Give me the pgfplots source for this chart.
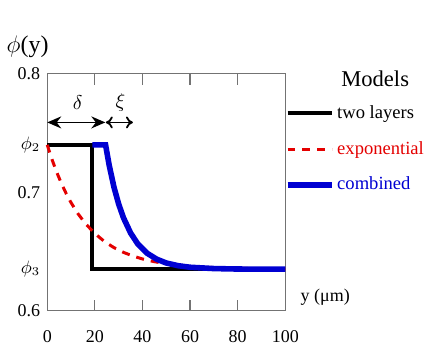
\documentclass[border=0pt]{standalone}
\usepackage{fontspec}
\setmainfont{Liberation Serif}
\usepackage{pgfplots}
\pgfplotsset{compat=1.18}
\usetikzlibrary{arrows.meta}
\definecolor{cred}{RGB}{228,0,0}
\definecolor{cblue}{RGB}{0,0,210}

\begin{document}
\begin{tikzpicture}
\begin{axis}[
  scale only axis,
  width=119.2pt, height=118.5pt,
  xmin=0, xmax=100, ymin=0.6, ymax=0.8,
  clip=false,
  axis line style={black!55, line width=0.6pt},
  xtick={0,20,...,100},
  ytick={0.6,0.7,0.8},
  extra y ticks={0.635,0.74},
  extra y tick labels={$\phi_3$,$\phi_2$},
  extra y tick style={ytick style={draw=none}},
  ytick style={draw=none},
  xtick style={black!55, line width=0.6pt},
  major tick length=5.5pt,
  tick align=inside,
  xtick pos=both,
  /pgf/number format/assume math mode=true,
  yticklabel style={/pgf/number format/.cd, fixed, fixed zerofill, precision=1},
  tick label style={font=\fontsize{9}{10}\selectfont},
  xticklabel style={yshift=-6.5pt},
  legend style={at={(rel axis cs:1,1)}, anchor=north west, xshift=-0.5pt, yshift=-14.5pt,
    draw=none, fill=none, inner sep=0pt, row sep=8pt,
    font=\fontsize{9.3}{10}\selectfont, nodes={inner sep=1pt}},
  legend cell align=left,
  legend image code/.code={\draw[#1] (0pt,0pt) -- (22.5pt,0pt);},
]
\addplot[black, line width=2pt] coordinates {(0,0.74) (19,0.74) (19,0.635) (100,0.635)};
\addlegendentry{two layers}
\addplot[cred, line width=1.5pt, dash pattern=on 4pt off 3.5pt] coordinates {
  (0,0.740) (2,0.7277) (4,0.7168) (6,0.7072) (8,0.6987) (10,0.6912) (13,0.6816)
  (16,0.6736) (20,0.6651) (24,0.6584) (28,0.6532) (32,0.6492) (36,0.6461)
  (40,0.6436) (45,0.6413) (50,0.6396) (55,0.6384) (60,0.6375) (70,0.6363)
  (80,0.6357) (90,0.6354) (100,0.635)};
\addlegendentry{\textcolor{cred}{exponential}}
\addplot[cblue, line width=2.8pt] coordinates {
  (19,0.74) (24.5,0.740) (26,0.723) (28,0.7045) (30,0.690) (32,0.6785) (35,0.6656)
  (38,0.6564) (42,0.6484) (46,0.6434) (50,0.6402) (55,0.6379) (60,0.6366)
  (70,0.6355) (80,0.6351) (100,0.635)};
\addlegendentry{\textcolor{cblue}{combined}}
% annotations
\draw[{Stealth[length=7pt,width=6pt]}-{Stealth[length=7pt,width=6pt]}, line width=0.9pt]
  (axis cs:0,0.759) -- (axis cs:24.4,0.759);
\draw[{To[length=3.5pt,width=6pt]}-{To[length=3.5pt,width=6pt]}, line width=0.9pt]
  (axis cs:24.6,0.759) -- (axis cs:36,0.759);
\node[font=\fontsize{10}{11}\selectfont] at (axis cs:12.8,0.776) {$\delta$};
\node[font=\fontsize{10}{11}\selectfont] at (axis cs:30.7,0.776) {$\xi$};
\node[font=\fontsize{12}{13}\selectfont] at ([shift={(-9.85pt,13.5pt)}]rel axis cs:0,1) {$\phi$(y)};
\node[font=\fontsize{11.3}{12}\selectfont] at ([shift={(45pt,-2.5pt)}]rel axis cs:1,1) {Models};
\node[font=\fontsize{9}{10}\selectfont, anchor=west, inner sep=0pt] at ([shift={(7.5pt,6.5pt)}]rel axis cs:1,0) {y (μm)};
\path (rel axis cs:0,0) ++(-23.35pt,-22pt) rectangle ++(218pt,177.5pt);
\end{axis}
\end{tikzpicture}
\end{document}
